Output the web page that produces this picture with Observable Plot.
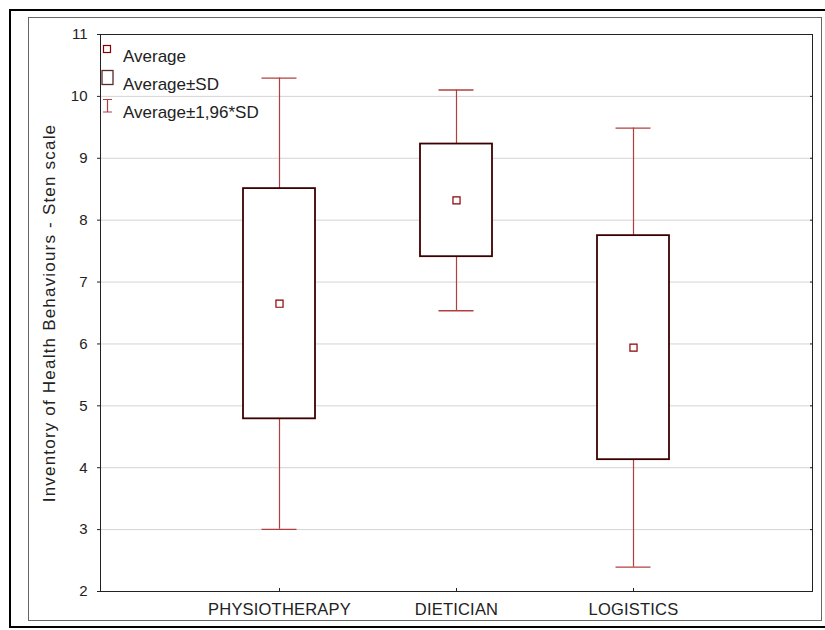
<!DOCTYPE html>
<html>
<head>
<meta charset="utf-8">
<script src="https://cdn.jsdelivr.net/npm/d3@7"></script>
<script src="https://cdn.jsdelivr.net/npm/@observablehq/plot@0.6"></script>
<style>
  body { margin: 0; background: #fff; }
  #page { position: relative; width: 825px; height: 630px; overflow: hidden; background: #fff;
          font-family: "Liberation Sans", Arial, sans-serif; color: #222; }
  #chart { position: absolute; left: 0; top: 0; }
  .outer { position: absolute; left: 9px; top: 9px; width: 840px; height: 615px; border: 2px solid #000; }
  .inner { position: absolute; left: 28px; top: 17px; width: 792px; height: 602px; border: 1px solid #666; }
  #legend { position: absolute; left: 0; top: 0; overflow: visible; }
  #legend text { font-family: "Liberation Sans", Arial, sans-serif; font-size: 17px; fill: #222; }
  #chart g[aria-label="text"] text { letter-spacing: 1.2px; }
  #chart g[aria-label="x-axis tick label"] text { letter-spacing: 0.2px; }
</style>
</head>
<body>
<div id="page">
  <div id="chart"></div>
  <div class="outer"></div>
  <div class="inner"></div>
  <svg id="legend" width="825" height="630">
    <rect x="103.5" y="45.5" width="7" height="7" fill="#fff" stroke="#8b0000" stroke-width="1.2"/>
    <text x="123" y="62">Average</text>
    <rect x="102" y="70.5" width="11" height="14" fill="#fff" stroke="#5a2a2a" stroke-width="1.3"/>
    <text x="123" y="90">Average±SD</text>
    <path d="M103,99.5H112M107.5,99.5V112M103,112H112" fill="none" stroke="#b04040" stroke-width="1.2"/>
    <text x="123" y="118">Average±1,96*SD</text>
  </svg>
</div>
<script>
// Groups compared and their sten-scale statistics
const groups = ["PHYSIOTHERAPY", "DIETICIAN", "LOGISTICS"];
const means = [6.65, 8.32, 5.94];
const sds = [1.86, 0.91, 1.81];
const yTicks = [2, 3, 4, 5, 6, 7, 8, 9, 10, 11];
const yTitle = "Inventory of Health Behaviours - Sten scale";

const rows = groups.map((g, i) => ({
  group: g,
  mean: means[i],
  sdLow: means[i] - sds[i],
  sdHigh: means[i] + sds[i],
  ciLow: means[i] - 1.96 * sds[i],
  ciHigh: means[i] + 1.96 * sds[i]
}));

const boxStroke = "#3d0000";
const whiskerStroke = "#b04040";
const meanStroke = "#8b0000";

const chart = Plot.plot({
  width: 825,
  height: 630,
  marginLeft: 100,
  marginRight: 13,
  marginTop: 34,
  marginBottom: 39,
  style: {
    fontFamily: "Liberation Sans, Arial, sans-serif",
    fontSize: "15px",
    color: "#222",
    background: "transparent",
    overflow: "visible"
  },
  x: {
    type: "band",
    domain: groups,
    paddingInner: 0.5955,
    paddingOuter: 0.798,
    label: null
  },
  y: { domain: [2, 11], label: null },
  marks: [
    Plot.gridY(yTicks, { stroke: "#d4d4d4", strokeOpacity: 1 }),
    // whiskers: mean ± 1.96·SD
    Plot.ruleX(rows, { x: "group", y1: "ciLow", y2: "ciHigh", stroke: whiskerStroke, strokeWidth: 1.2 }),
    Plot.tickY(rows, { x: "group", y: "ciHigh", stroke: whiskerStroke, strokeWidth: 1.3, insetLeft: 18.5, insetRight: 18.5 }),
    Plot.tickY(rows, { x: "group", y: "ciLow", stroke: whiskerStroke, strokeWidth: 1.3, insetLeft: 18.5, insetRight: 18.5 }),
    // boxes: mean ± SD
    Plot.barY(rows, { x: "group", y1: "sdLow", y2: "sdHigh", fill: "#fff", stroke: boxStroke, strokeWidth: 1.8 }),
    // mean markers
    Plot.dot(rows, { x: "group", y: "mean", symbol: "square", r: 4, fill: "#fff", stroke: meanStroke, strokeWidth: 1.2 }),
    Plot.frame({ stroke: "#222", strokeWidth: 1 }),
    Plot.axisY(yTicks, { anchor: "left", tickSize: 3, tickPadding: 10, tickFormat: d3.format("d"), label: null, fontSize: 15 }),
    Plot.axisY(yTicks, { anchor: "right", tickSize: -3, text: null, label: null }),
    Plot.axisX({ anchor: "bottom", tickSize: -3, text: null, label: null }),
    Plot.axisX({ anchor: "bottom", tickSize: 0, tickPadding: 12, label: null, fontSize: 16.5 }),
    // vertical axis title
    Plot.text([yTitle], { frameAnchor: "left", rotate: -90, dx: -51, textAnchor: "middle", fontSize: 17, fill: "#222" })
  ]
});

document.getElementById("chart").appendChild(chart);
</script>
</body>
</html>
